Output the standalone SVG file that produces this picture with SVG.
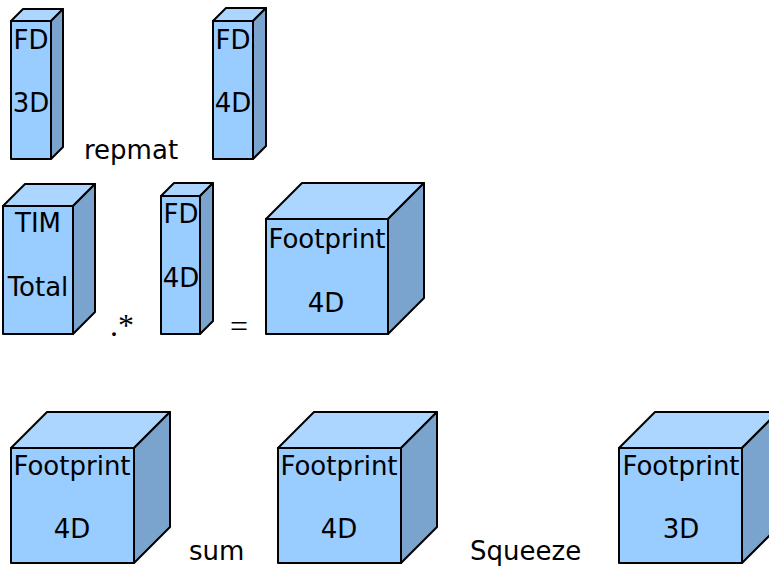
<svg xmlns="http://www.w3.org/2000/svg" width="769" height="566" viewBox="0 0 769 566">
<style>
.front{fill:#99ccff;stroke:#000;stroke-width:2;stroke-linejoin:round}
.top{fill:#acd6ff;stroke:#000;stroke-width:2;stroke-linejoin:round}
.side{fill:#7aa4cd;stroke:#000;stroke-width:2;stroke-linejoin:round}
text{font-family:"DejaVu Sans",Verdana,sans-serif;font-size:26px;fill:#000}
.c{text-anchor:middle}
.m{font-family:"Liberation Serif","Times New Roman",serif;font-size:32px}
</style>
<rect width="769" height="566" fill="#fff"/>
<g id="fd3d">
<polygon class="top" points="11,21 23,9 63,9 51,21"/>
<polygon class="side" points="51,21 63,9 63,147 51,159"/>
<rect class="front" x="11" y="21" width="40" height="138"/>
<text x="31" y="49" class="c">FD</text>
<text x="31" y="112" class="c">3D</text>
</g>
<g id="fd4d-top">
<polygon class="top" points="213,21 226,8 266,8 253,21"/>
<polygon class="side" points="253,21 266,8 266,146 253,159"/>
<rect class="front" x="213" y="21" width="40" height="138"/>
<text x="233" y="49" class="c">FD</text>
<text x="233" y="112" class="c">4D</text>
</g>
<g id="tim">
<polygon class="top" points="3,206 25,184 95,184 73,206"/>
<polygon class="side" points="73,206 95,184 95,312 73,334"/>
<rect class="front" x="3" y="206" width="70" height="128"/>
<text x="38" y="232" class="c">TIM</text>
<text x="38" y="296" class="c">Total</text>
</g>
<g id="fd4d-mid">
<polygon class="top" points="161,196 174,183 213,183 200,196"/>
<polygon class="side" points="200,196 213,183 213,321 200,334"/>
<rect class="front" x="161" y="196" width="39" height="138"/>
<text x="181" y="223" class="c">FD</text>
<text x="181" y="287" class="c">4D</text>
</g>
<g id="fp4d-mid">
<polygon class="top" points="266,219 302,183 424,183 388,219"/>
<polygon class="side" points="388,219 424,183 424,298 388,334"/>
<rect class="front" x="266" y="219" width="122" height="115"/>
<text x="327" y="248" class="c">Footprint</text>
<text x="326" y="312" class="c">4D</text>
</g>
<g id="fp4d-a">
<polygon class="top" points="11,448 47,412 170,412 134,448"/>
<polygon class="side" points="134,448 170,412 170,527 134,563"/>
<rect class="front" x="11" y="448" width="123" height="115"/>
<text x="72" y="475" class="c">Footprint</text>
<text x="72" y="538" class="c">4D</text>
</g>
<g id="fp4d-b">
<polygon class="top" points="278,448 314,412 437,412 401,448"/>
<polygon class="side" points="401,448 437,412 437,527 401,563"/>
<rect class="front" x="278" y="448" width="123" height="115"/>
<text x="339" y="475" class="c">Footprint</text>
<text x="339" y="538" class="c">4D</text>
</g>
<g id="fp3d">
<polygon class="top" points="619,448 655,412 778,412 742,448"/>
<polygon class="side" points="742,448 778,412 778,527 742,563"/>
<rect class="front" x="619" y="448" width="123" height="115"/>
<text x="681" y="475" class="c">Footprint</text>
<text x="681" y="538" class="c">3D</text>
</g>
<g id="connectors"></g>
<g id="labels">
<text x="84" y="159">repmat</text>
<text x="110" y="336" class="m">.*</text>
<text x="239" y="337" class="m c">=</text>
<text x="189" y="560">sum</text>
<text x="470" y="560">Squeeze</text>
</g>
</svg>
